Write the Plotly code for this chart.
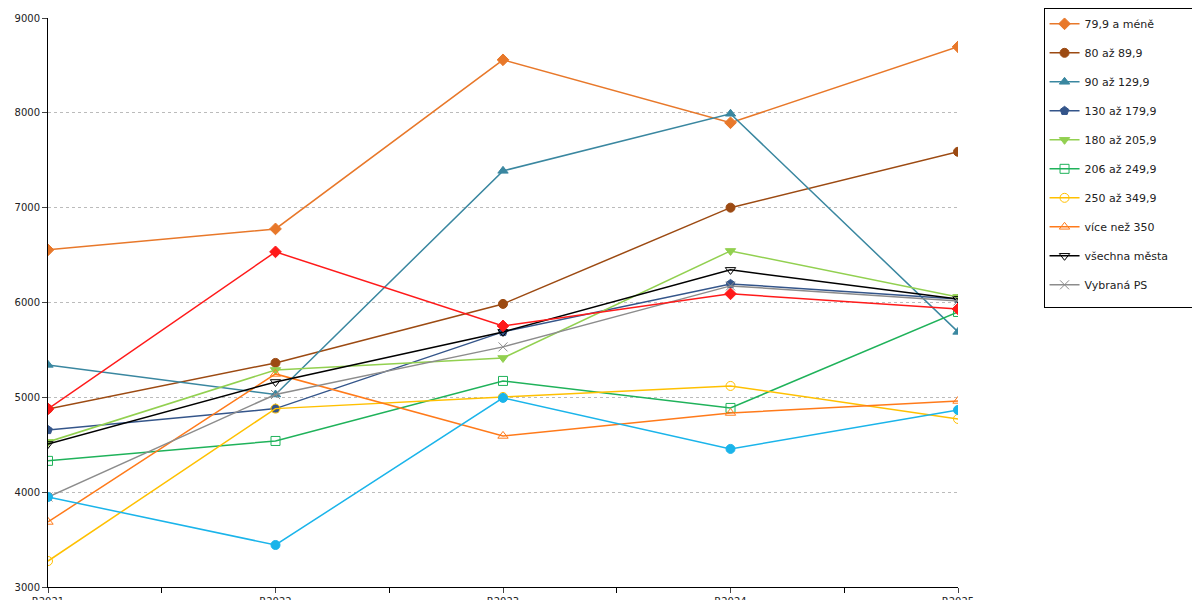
import plotly.graph_objects as go

years = ["R2021", "R2022", "R2023", "R2024", "R2025"]

names = ["79,9 a méně", "80 až 89,9", "90 až 129,9", "130 až 179,9", "180 až 205,9",
         "206 až 249,9", "250 až 349,9", "více než 350", "všechna města", "Vybraná PS",
         "Údaje vašeho úřadu", "Údaje vybraného úřadu"]

v_79 = [6555, 6776, 8559, 7895, 8696]
v_80 = [4878, 5363, 5985, 7000, 7589]
v_90 = [5342, 5030, 7388, 7990, 5690]
v_130 = [4656, 4881, 5690, 6196, 6038]
v_180 = [4530, 5289, 5415, 6544, 6059]
v_206 = [4330, 4540, 5173, 4888, 5900]
v_250 = [3274, 4881, 5004, 5120, 4772]
v_350 = [3686, 5247, 4593, 4835, 4962]
v_all = [4508, 5162, 5690, 6344, 6038]
v_ps = [3949, 5030, 5532, 6175, 6017]
v_vas = [4878, 6534, 5753, 6091, 5932]
v_vyb = [3949, 3443, 4994, 4456, 4867]

series = [v_79, v_80, v_90, v_130, v_180, v_206, v_250, v_350, v_all, v_ps, v_vas, v_vyb]
colors = ["#E8782A", "#9C4A12", "#3A87A0", "#34558A", "#92D050", "#1FB25A",
          "#FFC000", "#FF7A1A", "#000000", "#8C8C8C", "#FF1A1A", "#1AB4EA"]
symbols = ["diamond", "circle", "triangle-up", "pentagon", "triangle-down", "square-open",
           "circle-open", "triangle-up-open", "triangle-down-open", "x-thin-open", "diamond", "circle"]

fig = go.Figure()
for i, (n, v, c, s) in enumerate(zip(names, series, colors, symbols)):
    fig.add_trace(go.Scatter(x=list(range(len(years))), y=v, name=n, mode="lines+markers",
                             legendgroup=str(i),
                             line=dict(color=c, width=1.5),
                             marker=dict(symbol=s, size=9, color=c, line=dict(color=c, width=1))))

fig.update_layout(
    width=1200, height=600, plot_bgcolor="white", paper_bgcolor="white",
    margin=dict(l=40, r=250, t=10, b=21, autoexpand=False),
    font=dict(family="DejaVu Sans", size=11, color="#222"),
    legend=dict(x=1.094, y=1.017, xanchor="left", yanchor="top", bordercolor="#000",
                borderwidth=1, tracegroupgap=10, font=dict(size=11), itemwidth=30,
                itemsizing="trace"),
    xaxis=dict(range=[0, 4], tickmode="array", tickvals=list(range(5)), ticktext=years,
               showgrid=False, showline=True, linecolor="#000", ticks="outside", automargin=False,
               tickfont=dict(size=10),
               minor=dict(tickvals=[0.5, 1.5, 2.5, 3.5], ticks="outside", ticklen=5, tickcolor="#000"),
               zeroline=False),
    yaxis=dict(range=[3000, 9000], dtick=1000, showgrid=True, gridcolor="#bbb", griddash="dot",
               showline=True, linecolor="#000", ticks="outside", zeroline=False, automargin=False,
               tickfont=dict(size=10)),
)
fig.write_html("out.html")
